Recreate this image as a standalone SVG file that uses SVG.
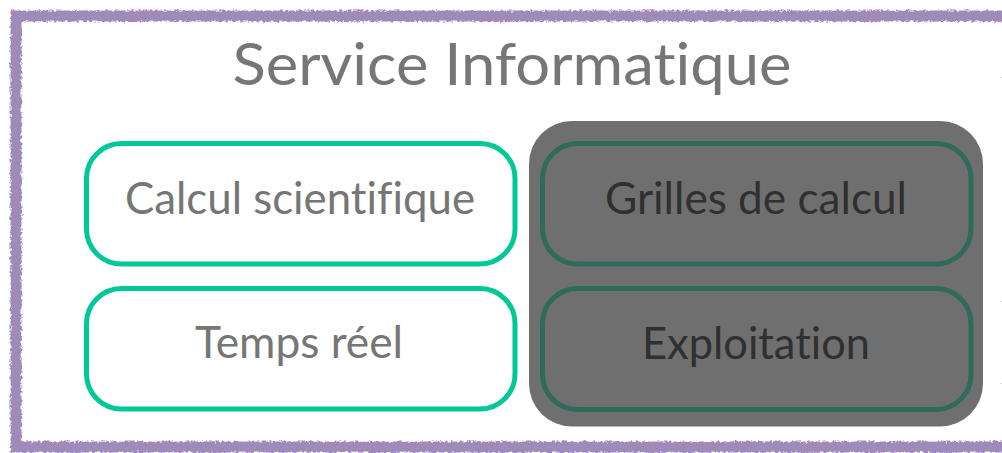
<svg xmlns="http://www.w3.org/2000/svg" width="1002" height="453" viewBox="0 0 1002 453">
  <defs>
    <filter id="rough" x="-5%" y="-5%" width="110%" height="110%">
      <feTurbulence type="fractalNoise" baseFrequency="0.35" numOctaves="2" seed="3" result="n"/>
      <feDisplacementMap in="SourceGraphic" in2="n" scale="5" xChannelSelector="R" yChannelSelector="G"/>
    </filter>
  </defs>
  <style>
    .frame { fill: none; stroke: #a08ab9; stroke-width: 11; }
    .lbox { fill: #ffffff; stroke: #00c896; stroke-width: 5; }
    .dbox { fill: none; stroke: #2f6b5a; stroke-width: 5; }
    .group { fill: #6f6f6f; }
    .t { font-family: Lato, "Open Sans", "Liberation Sans", sans-serif; text-anchor: middle; font-variant-ligatures: none; font-feature-settings: "liga" 0, "dlig" 0; }
    .lt { fill: #767676; font-size: 45px; }
    .dt { fill: #303030; font-size: 45px; }
    .title { fill: #767676; font-size: 59px; }
  </style>
  <rect width="1002" height="453" fill="#ffffff"/>
  <g id="frame">
    <rect class="frame" x="16" y="16" width="993" height="431" filter="url(#rough)"/>
  </g>
  <g id="title">
    <text class="t title" x="512" y="85" textLength="559" lengthAdjust="spacingAndGlyphs">Service Informatique</text>
  </g>
  <g id="calcul-scientifique">
    <rect class="lbox" x="86.5" y="143.5" width="428.5" height="120.5" rx="35" ry="35"/>
    <text class="t lt" x="300" y="214" textLength="350" lengthAdjust="spacingAndGlyphs">Calcul scientifique</text>
  </g>
  <g id="temps-reel">
    <rect class="lbox" x="86.5" y="288.5" width="428.5" height="120.5" rx="35" ry="35"/>
    <text class="t lt" x="299" y="358" textLength="208" lengthAdjust="spacingAndGlyphs">Temps réel</text>
  </g>
  <g id="groupe-exploitation">
    <rect class="group" x="529" y="121" width="454" height="305.5" rx="43" ry="43"/>
  </g>
  <g id="grilles-de-calcul">
    <rect class="dbox" x="542.5" y="143.5" width="428.5" height="120.5" rx="35" ry="35"/>
    <text class="t dt" x="756" y="213.5" textLength="302" lengthAdjust="spacingAndGlyphs">Grilles de calcul</text>
  </g>
  <g id="exploitation">
    <rect class="dbox" x="542.5" y="288.5" width="428.5" height="121" rx="35" ry="35"/>
    <text class="t dt" x="756" y="358.5" textLength="228" lengthAdjust="spacingAndGlyphs">Exploitation</text>
  </g>
  <g id="connectors"/>
</svg>
